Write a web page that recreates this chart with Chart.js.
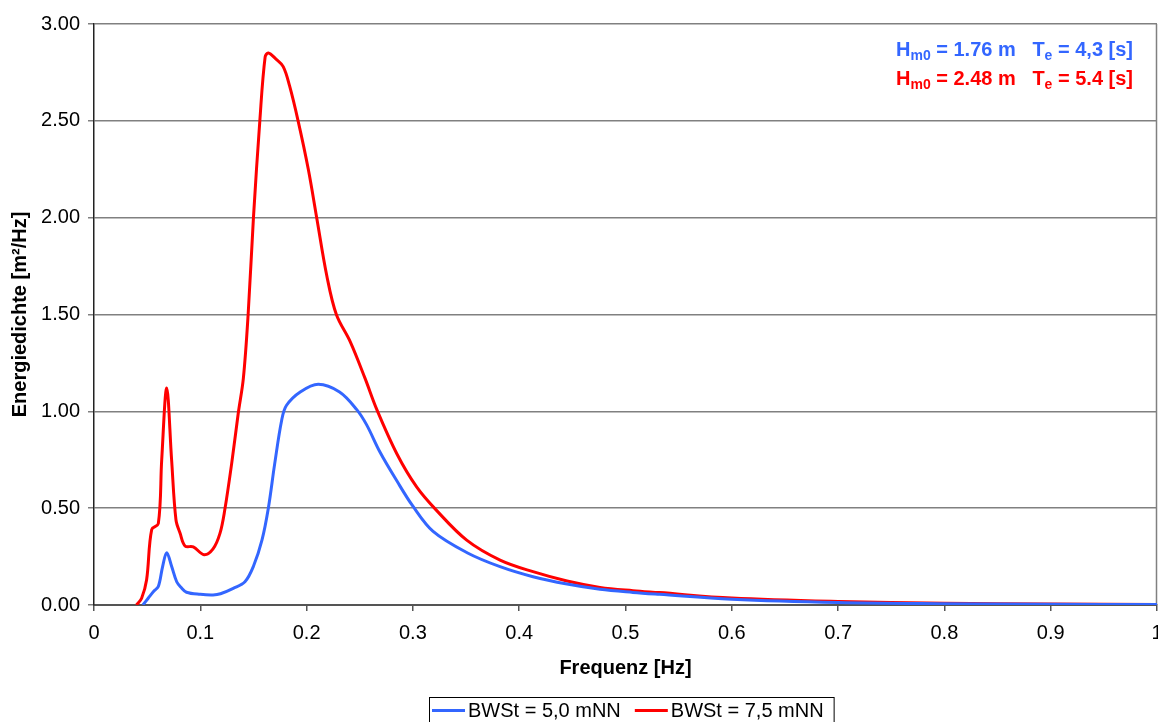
<!DOCTYPE html>
<html>
<head>
<meta charset="utf-8">
<script src="https://cdn.jsdelivr.net/npm/chart.js@4/dist/chart.umd.min.js"></script>
<style>
  html, body { margin: 0; padding: 0; background: #fff; }
</style>
</head>
<body>
<canvas id="c" width="1158" height="722"></canvas>
<script>
// Werte
const freqBlue = [0.046, 0.051, 0.056, 0.0605, 0.0646, 0.0684, 0.073, 0.0778, 0.082, 0.087,
  0.100, 0.112, 0.119, 0.131, 0.142, 0.150, 0.158, 0.164, 0.170, 0.1766,
  0.181, 0.194, 0.211, 0.231, 0.247, 0.2565, 0.269, 0.285, 0.300, 0.319,
  0.351, 0.382, 0.413, 0.445, 0.476, 0.507, 0.532, 0.6, 0.7, 0.8, 0.9, 1.0];
const densBlue = [0.0, 0.035, 0.07, 0.095, 0.20, 0.27, 0.20, 0.12, 0.09, 0.066,
  0.055, 0.052, 0.058, 0.086, 0.12, 0.20, 0.335, 0.50, 0.73, 0.955,
  1.03, 1.10, 1.14, 1.10, 1.01, 0.93, 0.79, 0.64, 0.51, 0.38,
  0.27, 0.198, 0.146, 0.108, 0.081, 0.065, 0.055, 0.03, 0.013, 0.007, 0.004, 0.002];

const freqRed = [0.040, 0.0448, 0.0495, 0.0543, 0.0605, 0.0637, 0.0684, 0.073, 0.0771, 0.081,
  0.0856, 0.0934, 0.1035, 0.112, 0.1185, 0.123, 0.1295, 0.1357, 0.1405, 0.145,
  0.150, 0.156, 0.161, 0.164, 0.171, 0.178, 0.184, 0.192, 0.2016, 0.2095,
  0.219, 0.228, 0.241, 0.255, 0.266, 0.285, 0.3035, 0.322, 0.3506,
  0.382, 0.413, 0.445, 0.476, 0.507, 0.532, 0.6, 0.7, 0.8, 0.9, 1.0];
const densRed = [0.0, 0.035, 0.13, 0.39, 0.42, 0.75, 1.12, 0.75, 0.44, 0.37,
  0.305, 0.30, 0.26, 0.29, 0.37, 0.49, 0.73, 0.99, 1.17, 1.50,
  2.00, 2.50, 2.83, 2.85, 2.82, 2.78, 2.68, 2.50, 2.25, 2.00,
  1.70, 1.50, 1.36, 1.17, 1.01, 0.78, 0.61, 0.49, 0.335,
  0.232, 0.172, 0.124, 0.091, 0.074, 0.064, 0.036, 0.018, 0.009, 0.005, 0.003];

const seriesNames = ['BWSt = 5,0 mNN', 'BWSt = 7,5 mNN'];
const BLUE = '#3366ff';
const RED = '#ff0000';
const FONT = '"Liberation Sans", Arial, sans-serif';

// Textzeilen oben rechts: [text, tiefgestellt?]
const infoLines = [
  { color: BLUE, parts: [['H', false], ['m0', true], [' = 1.76 m   T', false], ['e', true], [' = 4,3 [s]', false]] },
  { color: RED,  parts: [['H', false], ['m0', true], [' = 2.48 m   T', false], ['e', true], [' = 5.4 [s]', false]] }
];

const toPoints = (xs, ys) => xs.map((x, i) => ({ x: x, y: ys[i] }));

// Rahmen rechts
const frame = {
  id: 'frame',
  beforeDatasetsDraw(chart) {
    const { ctx, chartArea: a } = chart;
    ctx.save();
    ctx.strokeStyle = '#808080';
    ctx.lineWidth = 1.5;
    ctx.beginPath();
    ctx.moveTo(a.right - 0.5, a.top);
    ctx.lineTo(a.right - 0.5, a.bottom);
    ctx.stroke();
    ctx.restore();
  }
};

// Hm0 / Te Beschriftung
const info = {
  id: 'info',
  afterDraw(chart) {
    const ctx = chart.ctx;
    const right = 1133;
    const baselines = [56, 85];
    ctx.save();
    ctx.textBaseline = 'alphabetic';
    infoLines.forEach((line, k) => {
      let w = 0;
      line.parts.forEach(p => {
        ctx.font = 'bold ' + (p[1] ? 14 : 20) + 'px ' + FONT;
        w += ctx.measureText(p[0]).width;
      });
      let x = right - w;
      ctx.fillStyle = line.color;
      line.parts.forEach(p => {
        ctx.font = 'bold ' + (p[1] ? 14 : 20) + 'px ' + FONT;
        ctx.fillText(p[0], x, baselines[k] + (p[1] ? 4 : 0));
        x += ctx.measureText(p[0]).width;
      });
    });
    ctx.restore();
  }
};

// Legende mit Rahmen unten
const legendBox = {
  id: 'legendBox',
  afterDraw(chart) {
    const ctx = chart.ctx;
    const colors = [BLUE, RED];
    const left = 429, top = 697, h = 26, yMid = 710.5;
    ctx.save();
    ctx.font = '20px ' + FONT;
    ctx.textBaseline = 'middle';
    let x = left + 3;
    seriesNames.forEach((name, i) => {
      ctx.strokeStyle = colors[i];
      ctx.lineWidth = 3;
      ctx.beginPath();
      ctx.moveTo(x, yMid);
      ctx.lineTo(x + 33, yMid);
      ctx.stroke();
      x += 36;
      ctx.fillStyle = '#000';
      ctx.fillText(name, x, yMid + 1);
      x += ctx.measureText(name).width + 14;
    });
    const w = x - 14 + 10 - left;
    ctx.strokeStyle = '#000';
    ctx.lineWidth = 1;
    ctx.strokeRect(left + 0.5, top + 0.5, w, h);
    ctx.restore();
  }
};

new Chart(document.getElementById('c'), {
  type: 'line',
  data: {
    datasets: [
      { label: seriesNames[0], data: toPoints(freqBlue, densBlue), borderColor: BLUE, borderWidth: 3,
        pointRadius: 0, tension: 0.35, fill: false },
      { label: seriesNames[1], data: toPoints(freqRed, densRed), borderColor: RED, borderWidth: 3,
        pointRadius: 0, tension: 0.35, fill: false }
    ]
  },
  options: {
    responsive: false,
    animation: false,
    devicePixelRatio: 1,
    layout: { padding: { top: 24, right: 1, bottom: 0, left: 0 } },
    plugins: { legend: { display: false }, tooltip: { enabled: false } },
    scales: {
      x: {
        type: 'linear', min: 0, max: 1,
        afterFit: s => { s.height = 117; s.paddingLeft = 0; s.paddingRight = 0; },
        ticks: { stepSize: 0.1, color: '#000', padding: 10, maxRotation: 0, autoSkip: false,
          font: { family: FONT, size: 20 }, callback: v => String(+v.toFixed(1)) },
        grid: { drawOnChartArea: false, tickLength: 6, color: '#555', lineWidth: 1.5 },
        border: { color: '#555', width: 2 },
        title: { display: true, text: 'Frequenz [Hz]', color: '#000',
          font: { family: FONT, size: 20, weight: 'bold' }, padding: { top: 0, bottom: 42 } }
      },
      y: {
        min: 0, max: 3,
        afterFit: s => { s.width = 94; s.paddingTop = 0; s.paddingBottom = 0; },
        ticks: { stepSize: 0.5, color: '#000', padding: 8,
          font: { family: FONT, size: 20 }, callback: v => v.toFixed(2) },
        grid: { color: '#808080', lineWidth: 1.5, tickLength: 6 },
        border: { color: '#222', width: 1.5 },
        title: { display: true, text: 'Energiedichte [m²/Hz]', color: '#000',
          font: { family: FONT, size: 20, weight: 'bold' }, padding: { top: 8, bottom: 0 } }
      }
    }
  },
  plugins: [frame, info, legendBox]
});
</script>
</body>
</html>
